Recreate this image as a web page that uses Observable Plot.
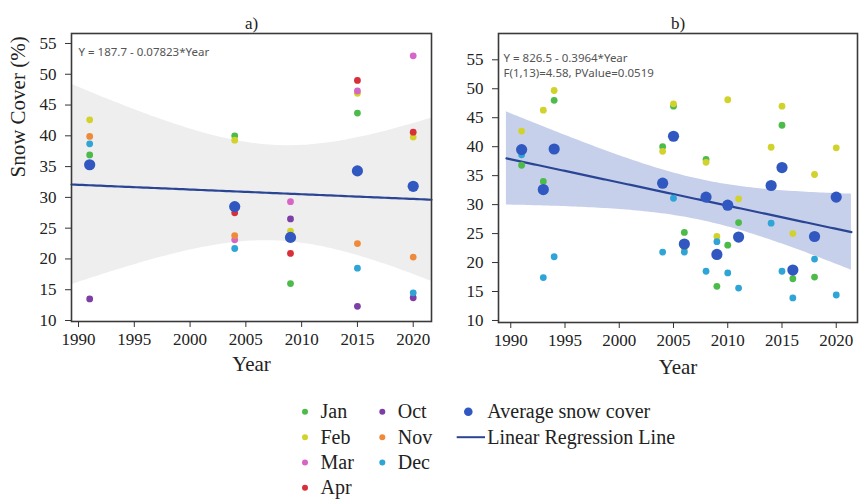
<!DOCTYPE html>
<html><head><meta charset="utf-8">
<script src="https://cdn.jsdelivr.net/npm/d3@7"></script>
<script src="https://cdn.jsdelivr.net/npm/@observablehq/plot@0.6"></script>
<style>
body{margin:0;background:#fff;}
#wrap{position:relative;width:860px;height:499px;overflow:hidden;}
#pa{position:absolute;left:0;top:0;}
#pb{position:absolute;left:436px;top:0;}
#legend{position:absolute;left:0;top:0;}
</style></head><body>
<div id="wrap"><div id="pa"></div><div id="pb"></div><svg id="legend" width="860" height="499"></svg></div>
<script>
// ---------- data ----------
const monthNames = ["Jan", "Feb", "Mar", "Apr", "Oct", "Nov", "Dec"];
const monthColors = ["#4cbb4a", "#d2d22c", "#d765c6", "#d8303b", "#7d3fa6", "#f08a3b", "#2ea5d6"];
const avgLabel = "Average snow cover";
const lineLabel = "Linear Regression Line";
const xTicks = [1990, 1995, 2000, 2005, 2010, 2015, 2020];
const yTicks = [10, 15, 20, 25, 30, 35, 40, 45, 50, 55];

// panel a
const yearsA = [1991, 2004, 2009, 2015, 2020];
const janA = [36.9, 40.0, 16.0, 43.7, null];
const febA = [42.6, 39.3, 24.5, 46.9, 39.8];
const marA = [null, 23.1, 29.3, 47.3, 53.0];
const aprA = [null, 27.5, 20.9, 49.0, 40.6];
const octA = [13.5, null, 26.5, 12.3, 13.7];
const novA = [39.9, 23.8, null, 22.5, 20.3];
const decA = [38.7, 21.7, null, 18.5, 14.5];
const avgA = [35.3, 28.5, 23.5, 34.3, 31.8];
const eqA = "Y = 187.7 - 0.07823*Year";

// panel b
const yearsB = [1991, 1993, 1994, 2004, 2005, 2006, 2008, 2009, 2010, 2011, 2014, 2015, 2016, 2018, 2020];
const janB = [36.8, 34.0, 48.0, 40.0, 47.0, 25.2, 37.8, 15.9, 23.0, 26.9, null, 43.7, 17.2, 17.5, null];
const febB = [42.7, 46.3, 49.7, 39.2, 47.4, 22.2, 37.3, 24.5, 48.1, 31.0, 39.9, 47.0, 25.0, 35.2, 39.8];
const decB = [38.6, 17.4, 21.0, 21.8, 31.1, 21.8, 18.5, 23.6, 18.2, 15.6, 26.8, 18.5, 13.9, 20.6, 14.4];
const avgB = [39.5, 32.6, 39.6, 33.7, 41.8, 23.2, 31.3, 21.4, 29.9, 24.4, 33.3, 36.4, 18.7, 24.5, 31.3];
const eqB = "Y = 826.5 - 0.3964*Year";
const statB = "F(1,13)=4.58, PValue=0.0519";

// regression extents and t quantiles (95% CI)
const fitRangeA = [1989.37, 2021.64];
const fitRangeB = [1989.6, 2021.4];
const tA = 3.182; // df = 3
const tB = 2.160; // df = 13

// ---------- helpers ----------
function longTable(years, series) {
  const rows = [];
  series.forEach(([name, vals]) => vals.forEach((v, i) => {
    if (v != null) rows.push({year: years[i], value: v, month: name});
  }));
  return rows;
}
function avgTable(years, vals) { return vals.map((v, i) => ({year: years[i], value: v})); }
function fit(xs, ys, t, [x0, x1]) {
  const n = xs.length, mx = d3.mean(xs), my = d3.mean(ys);
  const sxx = d3.sum(xs, x => (x - mx) ** 2);
  const sxy = d3.sum(xs.map((x, i) => (x - mx) * (ys[i] - my)));
  const b = sxy / sxx, a = my - b * mx;
  const sse = d3.sum(xs.map((x, i) => (ys[i] - a - b * x) ** 2));
  const s = Math.sqrt(sse / (n - 2));
  return d3.range(0, 101).map(k => {
    const x = x0 + (x1 - x0) * k / 100, y = a + b * x;
    const h = t * s * Math.sqrt(1 / n + (x - mx) ** 2 / sxx);
    return {x, y, lo: y - h, hi: y + h};
  });
}

const serif = "'Liberation Serif', 'Times New Roman', serif";
const sans = "'Noto Sans', 'Open Sans', sans-serif";
const avgColor = "#3158c0";
const lineColor = "#2b4595";
const ink = "#222";

const monthsA = longTable(yearsA, [["Jan", janA], ["Feb", febA], ["Mar", marA], ["Apr", aprA], ["Oct", octA], ["Nov", novA], ["Dec", decA]]);
const averagesA = avgTable(yearsA, avgA);
const fitA = fit(yearsA, avgA, tA, fitRangeA);

const monthsB = longTable(yearsB, [["Jan", janB], ["Feb", febB], ["Dec", decB]]);
const averagesB = avgTable(yearsB, avgB);
const fitB = fit(yearsB, avgB, tB, fitRangeB);

function panel({width, height, margins, ydomain, xdomain, band, fitData, months, averages, title, yLabel, yearDy, notes}) {
  const marks = [
    Plot.areaY(fitData, {x: "x", y1: "lo", y2: "hi", fill: band}),
    Plot.line(fitData, {x: "x", y: "y", stroke: lineColor, strokeWidth: 2.2}),
    Plot.dot(months, {x: "year", y: "value", fill: "month", r: 3.4}),
    Plot.dot(averages, {x: "year", y: "value", fill: avgColor, r: 5.6}),
    Plot.frame({stroke: "#3a3a3a", strokeWidth: 1.6}),
    Plot.axisX({ticks: xTicks, tickFormat: "d", tickSize: 6, tickPadding: 5, label: null, stroke: "#333"}),
    Plot.axisY({ticks: yTicks, tickSize: 6, tickPadding: 9, label: null, stroke: "#333"}),
    Plot.text([title], {text: d => d, frameAnchor: "top", dy: -17, fontSize: 17, fill: ink}),
    Plot.text(["Year"], {text: d => d, frameAnchor: "bottom", dy: yearDy, lineAnchor: "bottom", fontSize: 21, fill: ink})
  ];
  if (yLabel) marks.push(Plot.text([yLabel], {text: d => d, frameAnchor: "left", dx: -53, rotate: -90, fontSize: 21, fill: ink}));
  notes.forEach(([txt, dx, dy]) => marks.push(Plot.text([txt], {text: d => d, frameAnchor: "top-left", dx, dy, textAnchor: "start", lineAnchor: "middle", fontFamily: sans, fontSize: 11.5, fill: "#555"})));
  return Plot.plot({
    width, height, ...margins,
    style: {fontFamily: serif, fontSize: "17px", color: ink, background: "transparent", overflow: "visible"},
    x: {domain: xdomain},
    y: {domain: ydomain},
    color: {domain: monthNames, range: monthColors},
    marks
  });
}

document.getElementById("pa").append(panel({
  width: 436, height: 380,
  margins: {marginLeft: 71, marginRight: 5, marginTop: 33, marginBottom: 59},
  xdomain: [1989.37, 2021.64], ydomain: [9.84, 56.62],
  band: "#eeeeee", fitData: fitA, months: monthsA, averages: averagesA,
  title: "a)", yLabel: "Snow Cover (%)", yearDy: 49,
  notes: [[eqA, 7, 19]]
}));
document.getElementById("pb").append(panel({
  width: 424, height: 385,
  margins: {marginLeft: 62, marginRight: 3, marginTop: 33, marginBottom: 63},
  xdomain: [1988.87, 2021.96], ydomain: [9.65, 59.54],
  band: "#c6d0ea", fitData: fitB, months: monthsB, averages: averagesB,
  title: "b)", yLabel: null, yearDy: 51,
  notes: [[eqB, 5, 25], [statB, 5, 40]]
}));

// ---------- legend ----------
const lg = d3.select("#legend").style("font-family", serif).style("font-size", "20px");
const colA = ["Jan", "Feb", "Mar", "Apr"], colB = ["Oct", "Nov", "Dec"];
const rowY = [411.7, 437.2, 462.4, 487.7];
function monthItem(name, x, y) {
  lg.append("circle").attr("cx", x).attr("cy", y).attr("r", 3).attr("fill", monthColors[monthNames.indexOf(name)]);
  lg.append("text").attr("x", x + 15.5).attr("y", y + 6.5).attr("fill", ink).text(name);
}
colA.forEach((m, i) => monthItem(m, 305, rowY[i]));
colB.forEach((m, i) => monthItem(m, 382.3, rowY[i]));
lg.append("circle").attr("cx", 468.3).attr("cy", rowY[0]).attr("r", 4.3).attr("fill", avgColor);
lg.append("text").attr("x", 487.3).attr("y", rowY[0] + 6.5).attr("fill", ink).text(avgLabel);
lg.append("line").attr("x1", 456.7).attr("x2", 485).attr("y1", rowY[1]).attr("y2", rowY[1]).attr("stroke", lineColor).attr("stroke-width", 2);
lg.append("text").attr("x", 487.3).attr("y", rowY[1] + 6.5).attr("fill", ink).text(lineLabel);
</script>
</body></html>
